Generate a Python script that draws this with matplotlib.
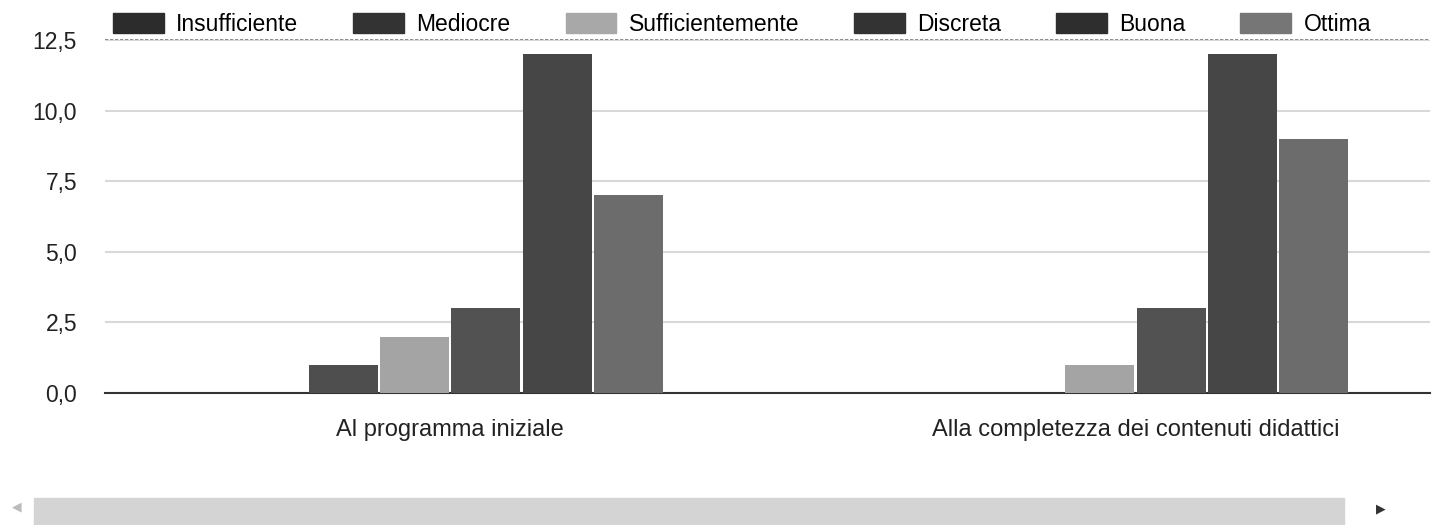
import matplotlib.pyplot as plt
import numpy as np
from matplotlib.patches import Rectangle

plt.rcParams['font.family'] = ['Liberation Sans', 'DejaVu Sans']

# data
categories = ['Al programma iniziale', 'Alla completezza dei contenuti didattici']
series = ['Insufficiente', 'Mediocre', 'Sufficientemente', 'Discreta', 'Buona', 'Ottima']
values = [
    [0, 0],   # Insufficiente
    [1, 0],   # Mediocre
    [2, 1],   # Sufficientemente
    [3, 3],   # Discreta
    [12, 12], # Buona
    [7, 9],   # Ottima
]
bar_colors = ['#3a3a3a', '#4e4e4e', '#a4a4a4', '#525252', '#464646', '#6c6c6c']
legend_colors = ['#2c2c2c', '#333333', '#a8a8a8', '#333333', '#2e2e2e', '#767676']
yticks = [0, 2.5, 5, 7.5, 10, 12.5]
ytick_labels = ['0,0', '2,5', '5,0', '7,5', '10,0', '12,5']

fig = plt.figure(figsize=(14.36, 5.25), dpi=100)
ax = fig.add_axes([0.073, 0.2514, 0.923, 0.6724])

x = np.arange(len(categories))
w = 0.104
for i, name in enumerate(series):
    off = (i - 2.5) * w
    ax.bar(x + off, values[i], width=w * 0.97, color=bar_colors[i], zorder=3)

ax.set_xlim(-0.504, 1.43)
ax.set_ylim(0, 12.5)
ax.set_yticks(yticks)
ax.set_yticklabels(ytick_labels, fontsize=16.5, color='#222222')
ax.set_xticks(x)
ax.set_xticklabels(categories, fontsize=17, color='#222222')
ax.tick_params(axis='both', length=0)
ax.tick_params(axis='y', pad=20)
ax.tick_params(axis='x', pad=19)
ax.grid(axis='y', color='#d8d8d8', linewidth=1.5, zorder=0)
for s in ['left', 'right', 'top']:
    ax.spines[s].set_visible(False)
ax.spines['bottom'].set_color('#333333')
ax.spines['bottom'].set_linewidth(1.5)
ax.axhline(12.5, color='#777777', linewidth=1.2, linestyle=(0, (2, 1)), zorder=1, clip_on=False)

handles = [Rectangle((0, 0), 1, 1, color=c) for c in legend_colors]
leg = fig.legend(handles, series, loc='upper left', bbox_to_anchor=(0.0725, 0.993), ncol=6,
                 frameon=False, fontsize=16.5, handlelength=2.2, handleheight=0.95,
                 handletextpad=0.55, columnspacing=2.4, borderaxespad=0)

# scrollbar strip at the bottom of the scan
fig.patches.append(Rectangle((0.024, 0.0), 0.912, 0.052, transform=fig.transFigure,
                             color='#d4d4d4', zorder=0))
fig.text(0.008, 0.035, '\u25c0', fontsize=9, color='#bbbbbb', va='center', family=['DejaVu Sans'])
fig.text(0.958, 0.03, '\u25b6', fontsize=9, color='#333333', va='center', family=['DejaVu Sans'])

fig.savefig('out.png', dpi=100)
